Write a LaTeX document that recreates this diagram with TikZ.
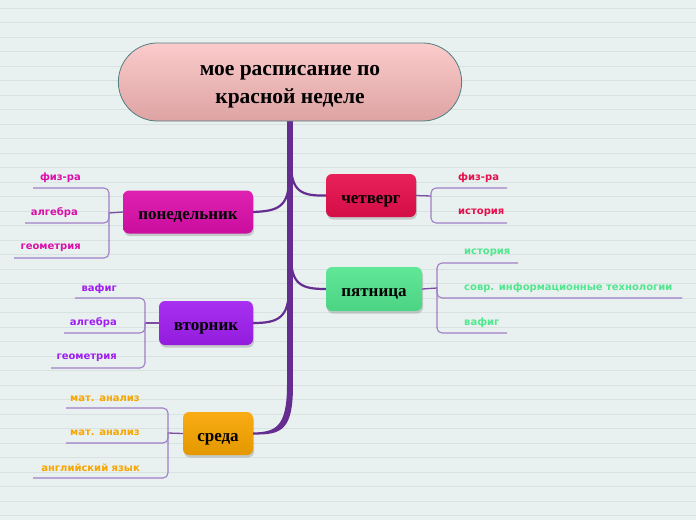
\documentclass[tikz,border=0pt]{standalone}
\usepackage{fontspec}
\setmainfont{Liberation Serif}
\newfontfamily\labfont{DejaVu Sans}
\usetikzlibrary{shadows,shapes.misc,calc}
\definecolor{bg}{HTML}{E8F1F0}
\definecolor{bgl}{HTML}{D8E2E1}
\definecolor{trunk}{HTML}{662D91}
\definecolor{subl}{HTML}{A07EC6}
\definecolor{cmon}{HTML}{DC0EAA}
\definecolor{ctue}{HTML}{A01EF0}
\definecolor{cwed}{HTML}{F8A500}
\definecolor{cthu}{HTML}{E60E4C}
\definecolor{cfri}{HTML}{52E68F}
\definecolor{rootb}{HTML}{4F7F80}
\definecolor{roott}{HTML}{FBCBCB}
\definecolor{rootbot}{HTML}{DEA3A3}
\begin{document}
\begin{tikzpicture}[x=1pt,y=-1pt,
  bgline/.style={draw=bgl, line width=1pt},
  daybox/.style={rounded corners=6pt, minimum height=43pt, inner sep=0pt,
    font=\bfseries\fontsize{17}{19}\selectfont, text=black,
    text height=15pt, text depth=0pt,
    drop shadow={opacity=0.35, shadow xshift=1pt, shadow yshift=-2.5pt}},
  lab/.style={font=\labfont\bfseries\fontsize{10}{12}\selectfont, inner sep=0pt},
  sub/.style={draw=subl, line width=1.1pt, rounded corners=5pt},
  conn/.style={draw=trunk!85, line width=1.3pt},
  branch/.style={draw=trunk, line width=2.2pt}]
\fill[bg] (0,0) rectangle (696,520);
\useasboundingbox (0,0) rectangle (696,520);
\foreach \i in {0,...,35} \draw[bgline] (0,{8.3+14.5*\i}) -- (696,{8.3+14.5*\i});

% day nodes
\node[daybox, minimum width=130pt, top color=cmon!92!white, bottom color=cmon!92!black] (mon) at (188,212) {понедельник};
\node[daybox, minimum width=94pt, minimum height=44pt, top color=ctue!92!white, bottom color=ctue!92!black] (tue) at (206,323) {вторник};
\node[daybox, minimum width=70pt, top color=cwed!92!white, bottom color=cwed!92!black] (wed) at (218,433.5) {среда};
\node[daybox, minimum width=90pt, top color=cthu!92!white, bottom color=cthu!92!black] (thu) at (371,195.5) {четверг};
\node[daybox, minimum width=96pt, minimum height=44pt, top color=cfri!92!white, bottom color=cfri!92!black] (fri) at (374,289) {пятница};

% trunk and branches
\coordinate (tr) at (290,121);
\draw[trunk, line width=6pt] (tr) -- (290,392);
\fill[trunk] (287,385) .. controls (287,428) and (275,432) .. ($(wed.east)+(0,-1)$) -- ($(wed.east)+(0,1)$) .. controls (282,435) and (293,430) .. (293,385) -- cycle;
\draw[branch] (289,178) .. controls (289,207) and (278,211) .. (mon.east);
\draw[branch] (289,288) .. controls (289,318) and (278,323) .. (tue.east);
\draw[branch] (291,163) .. controls (291,192) and (302,196) .. (thu.west);
\draw[branch] (291,256) .. controls (291,285) and (302,289) .. (fri.west);

% root
\node[rounded rectangle, minimum width=350pt, minimum height=78pt, draw=rootb, line width=0.8pt,
  top color=roott, bottom color=rootbot,
  font=\bfseries\fontsize{21.5}{28.2}\selectfont, align=center,
  text height=45pt, text depth=1.8pt] (root) at (290,82) {мое расписание по\\красной неделе};

% Monday
\coordinate (mb) at (109,213);
\draw[conn] (mon.west) -- (mb);
\node[lab, text=cmon, anchor=east] (m1) at (81,178) {физ-ра};
\node[lab, text=cmon, anchor=east] (m2) at (78,213) {алгебра};
\node[lab, text=cmon, anchor=east] (m3) at (81,248) {геометрия};
\draw[sub] (33,188) -- (109,188) -- (109,258) -- (14,258);
\draw[sub] (25,223) -- (109,223) -- (109,212);

% Tuesday
\coordinate (tb) at (145,323);
\draw[conn] (tue.west) -- (tb);
\node[lab, text=ctue, anchor=east] (t1) at (117,289) {вафиг};
\node[lab, text=ctue, anchor=east] (t2) at (117,323) {алгебра};
\node[lab, text=ctue, anchor=east] (t3) at (117,358) {геометрия};
\draw[sub] (75,298) -- (145,298) -- (145,368) -- (51,368);
\draw[sub] (64,333) -- (145,333) -- (145,322);

% Wednesday
\coordinate (wb) at (168,433);
\draw[conn] (wed.west) -- (wb);
\node[lab, text=cwed, anchor=east] (w1) at (140,399) {мат. анализ};
\node[lab, text=cwed, anchor=east] (w2) at (140,433) {мат. анализ};
\node[lab, text=cwed, anchor=east] (w3) at (140,468) {английский язык};
\draw[sub] (66,408) -- (168,408) -- (168,478) -- (33,478);
\draw[sub] (66,443) -- (168,443) -- (168,432);

% Thursday
\coordinate (hb) at (431,196);
\draw[conn] (thu.east) -- (hb);
\node[lab, text=cthu, anchor=west] (h1) at (458,178) {физ-ра};
\node[lab, text=cthu, anchor=west] (h2) at (458,213) {история};
\draw[sub] (507,188) -- (431,188) -- (431,223) -- (507,223);

% Friday
\coordinate (fb) at (437,288);
\draw[conn] (fri.east) -- (fb);
\node[lab, text=cfri, anchor=west] (f1) at (464,253) {история};
\node[lab, text=cfri, anchor=west] (f2) at (464,288) {совр. информационные технологии};
\node[lab, text=cfri, anchor=west] (f3) at (464,323) {вафиг};
\draw[sub] (518,263) -- (437,263) -- (437,333) -- (507,333);
\draw[sub] (437,287) -- (437,298) -- (682,298);
\end{tikzpicture}
\end{document}
